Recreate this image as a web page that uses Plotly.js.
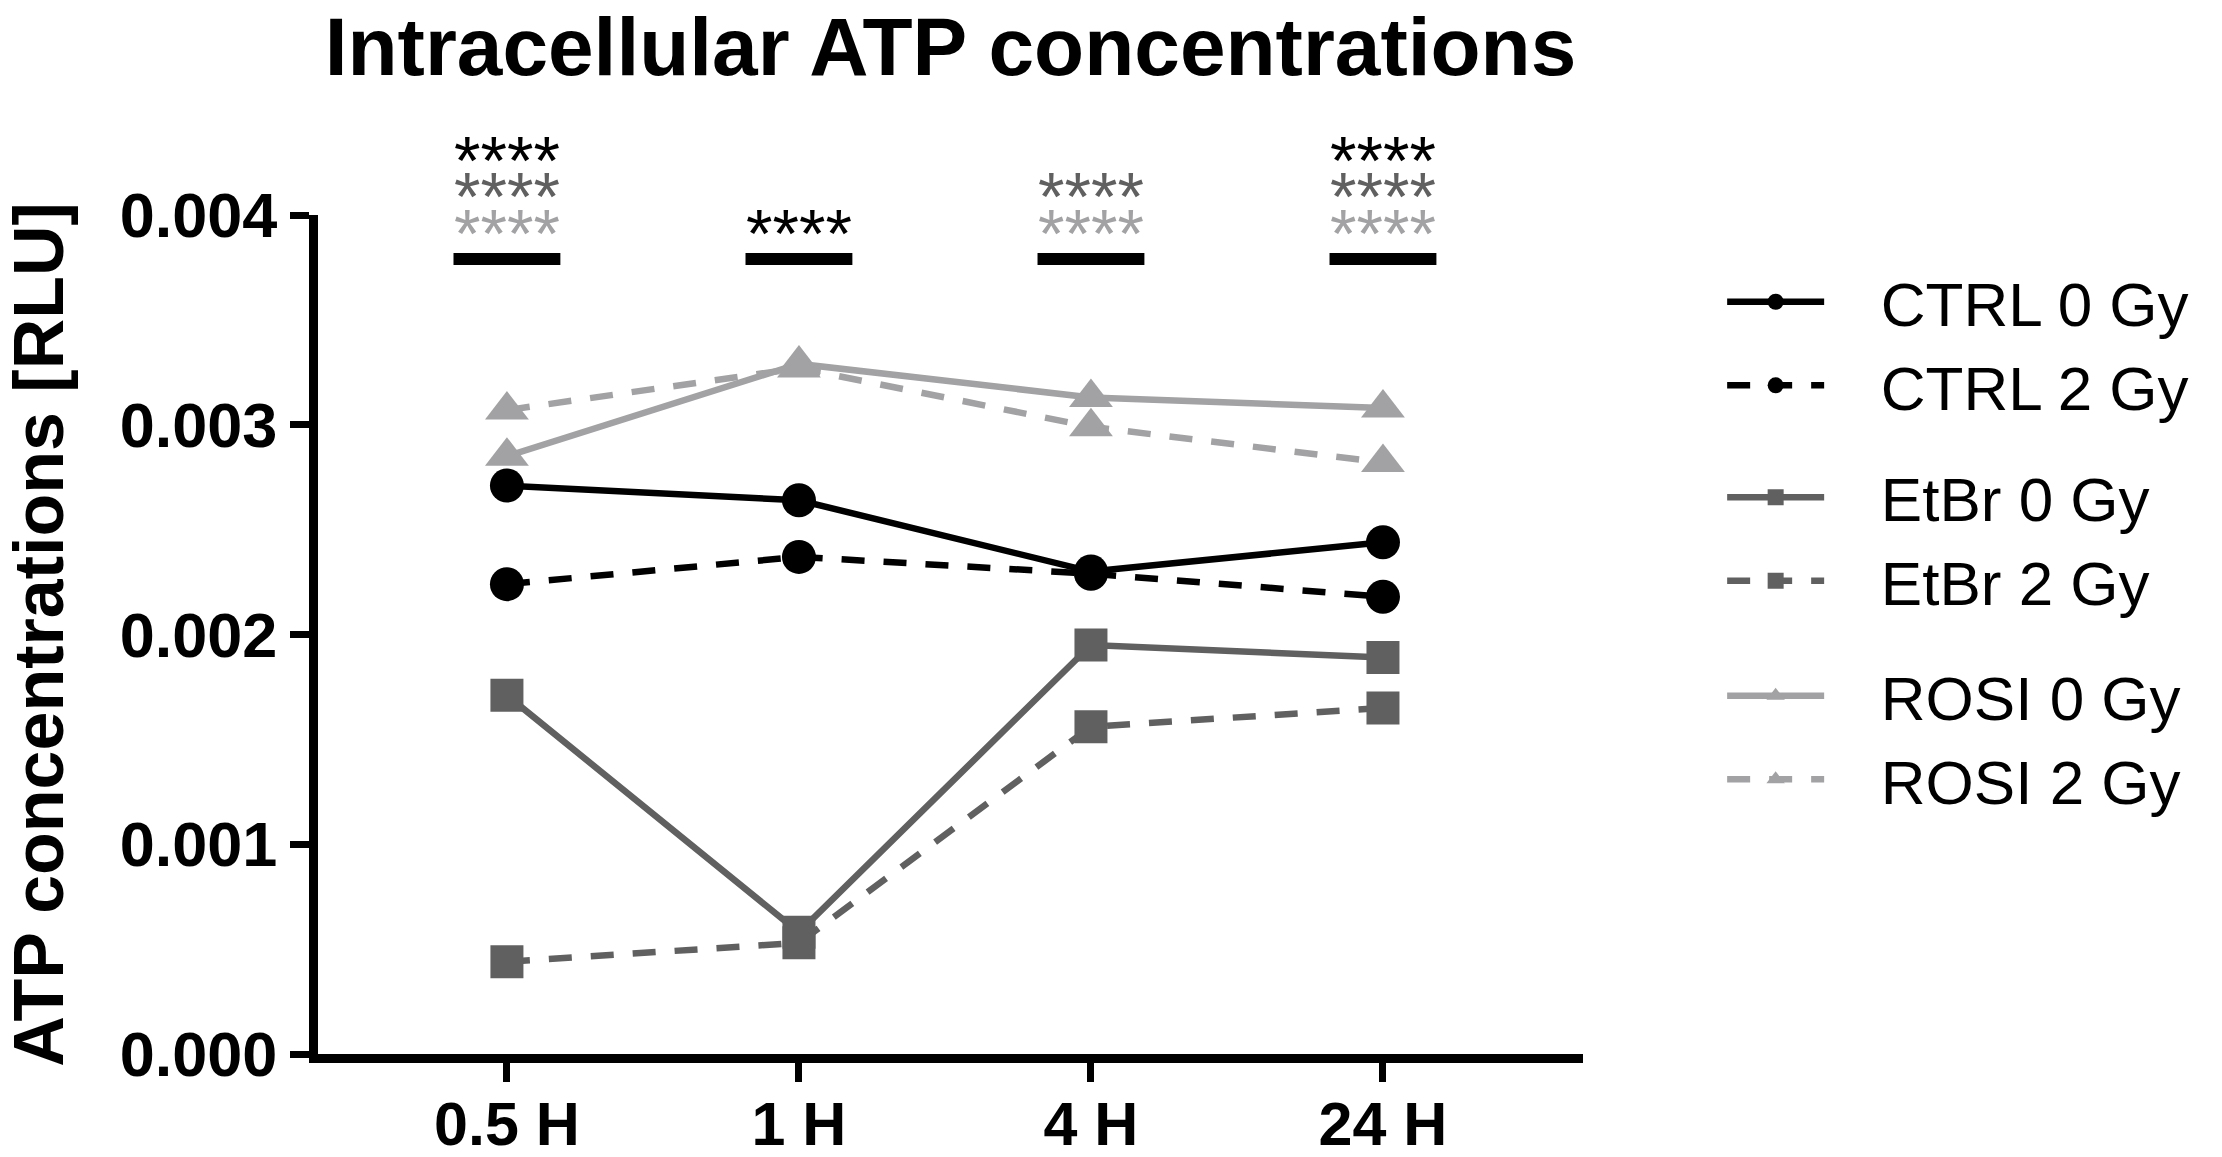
<!DOCTYPE html>
<html>
<head>
<meta charset="utf-8">
<script src="https://cdn.plot.ly/plotly-3.0.1.min.js"></script>
<style>
  html, body { margin: 0; padding: 0; background: #ffffff; }
  #chart { width: 2222px; height: 1157px; }
</style>
</head>
<body>
<div id="chart"></div>
<script>
// time points
var timepoints = ['0.5 H', '1 H', '4 H', '24 H'];

// ATP concentrations [RLU]
var ctrl0 = [0.00271, 0.00264, 0.00230, 0.00244];
var ctrl2 = [0.00224, 0.00237, 0.00229, 0.00218];
var etbr0 = [0.00171, 0.00058, 0.00195, 0.00189];
var etbr2 = [0.00044, 0.00053, 0.00156, 0.00165];
var rosi0 = [0.00285, 0.00329, 0.00313, 0.00308];
var rosi2 = [0.00307, 0.00327, 0.00299, 0.00282];

// significance marks per time point (bottom row first)
var sigGroups = [
  ['ROSI', 'EtBr', 'CTRL'],
  ['CTRL'],
  ['ROSI', 'EtBr'],
  ['ROSI', 'EtBr', 'CTRL']
];
var sigText = '****';
var sigRowY = [0.00395, 0.00413, 0.00430];
var sigBarY = 0.00379;

var yRange = [0, 0.004];
var yTicks = [0, 0.001, 0.002, 0.003, 0.004];

var colors = { CTRL: '#000000', EtBr: '#606060', ROSI: '#a2a2a5' };
var FONT = 'Liberation Sans, Arial, Helvetica, sans-serif';
var PAD = '\u00a0\u00a0\u00a0';

// one legend box per group so the gaps between groups match
var legendOf = { CTRL: 'legend', EtBr: 'legend2', ROSI: 'legend3' };

function serie(name, group, y, symbol, size, dashed) {
  return {
    type: 'scatter',
    mode: 'lines+markers',
    name: PAD + name,
    legendgroup: group,
    legend: legendOf[group],
    x: timepoints,
    y: y,
    cliponaxis: false,
    line: { color: colors[group], width: 6.5, dash: dashed ? '23px,19px' : 'solid' },
    marker: { color: colors[group], size: size, symbol: symbol }
  };
}

var data = [
  serie('CTRL 0 Gy', 'CTRL', ctrl0, 'circle', 34, false),
  serie('CTRL 2 Gy', 'CTRL', ctrl2, 'circle', 34, true),
  serie('EtBr 0 Gy', 'EtBr', etbr0, 'square', 33, false),
  serie('EtBr 2 Gy', 'EtBr', etbr2, 'square', 33, true),
  serie('ROSI 0 Gy', 'ROSI', rosi0, 'triangle-up', 38, false),
  serie('ROSI 2 Gy', 'ROSI', rosi2, 'triangle-up', 38, true)
];

// the stars sit above the top of the y range, so they are placed in paper units
var annotations = [];
var shapes = [];
for (var i = 0; i < timepoints.length; i++) {
  for (var j = 0; j < sigGroups[i].length; j++) {
    annotations.push({
      x: i, xref: 'x',
      y: (sigRowY[j] - yRange[0]) / (yRange[1] - yRange[0]), yref: 'paper',
      text: sigText, showarrow: false,
      xanchor: 'center', yanchor: 'middle', yshift: -8,
      font: { family: FONT, size: 68, color: colors[sigGroups[i][j]] }
    });
  }
  shapes.push({
    type: 'line', xref: 'x', yref: 'y',
    x0: i - 0.183, x1: i + 0.183, y0: sigBarY, y1: sigBarY,
    line: { color: '#000000', width: 12 }
  });
}

function legendBox(y) {
  return {
    x: 1.11, xref: 'paper', xanchor: 'left',
    y: y, yref: 'paper', yanchor: 'top',
    itemwidth: 97,
    bgcolor: 'rgba(0,0,0,0)',
    borderwidth: 0,
    font: { family: FONT, size: 62, color: '#000000' }
  };
}

var layout = {
  width: 2222,
  height: 1157,
  paper_bgcolor: '#ffffff',
  plot_bgcolor: '#ffffff',
  margin: { l: 318, r: 639, t: 215, b: 103, pad: 0 },
  font: { family: FONT, color: '#000000' },
  title: {
    text: 'Intracellular ATP concentrations',
    font: { family: FONT, size: 82, weight: 'bold', color: '#000000' },
    x: 0.5, xref: 'paper', xanchor: 'center',
    y: 0.9598, yref: 'container', yanchor: 'middle'
  },
  xaxis: {
    type: 'category',
    categoryorder: 'array',
    categoryarray: timepoints,
    range: [-0.647, 3.685],
    showline: true, linecolor: '#000000', linewidth: 9,
    ticks: 'outside', ticklen: 19, tickwidth: 7, tickcolor: '#000000',
    ticklabelstandoff: -10,
    showgrid: false, zeroline: false,
    tickfont: { family: FONT, size: 61, weight: 'bold', color: '#000000' },
    fixedrange: true
  },
  yaxis: {
    range: yRange,
    tickvals: yTicks,
    tickformat: '.3f',
    showline: true, linecolor: '#000000', linewidth: 9,
    ticks: 'outside', ticklen: 19, tickwidth: 7, tickcolor: '#000000',
    showgrid: false, zeroline: false,
    tickfont: { family: FONT, size: 63, weight: 'bold', color: '#000000' },
    title: {
      text: 'ATP concentrations [RLU]',
      font: { family: FONT, size: 70, weight: 'bold', color: '#000000' },
      standoff: 40
    },
    fixedrange: true
  },
  showlegend: true,
  legend: legendBox(0.9524),
  legend2: legendBox(0.7194),
  legend3: legendBox(0.4828),
  annotations: annotations,
  shapes: shapes
};

Plotly.newPlot('chart', data, layout, { displayModeBar: false, staticPlot: true });
</script>
</body>
</html>
